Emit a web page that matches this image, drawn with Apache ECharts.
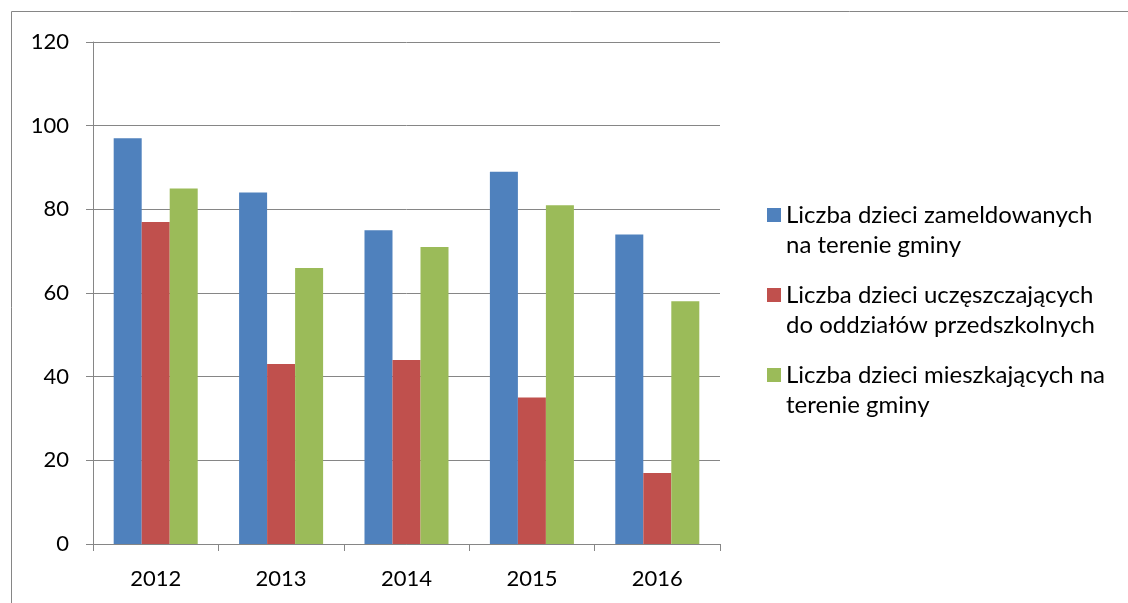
<!DOCTYPE html>
<html>
<head>
<meta charset="utf-8">
<script src="https://cdn.jsdelivr.net/npm/echarts@6/dist/echarts.min.js"></script>
<style>
  html, body { margin: 0; padding: 0; background: #fff; }
  #chart { width: 1128px; height: 603px; }
</style>
</head>
<body>
<div id="chart"></div>
<script>
// dane
var years = ['2012', '2013', '2014', '2015', '2016']
var seriesNames = [
  'Liczba dzieci zameldowanych na terenie gminy',
  'Liczba dzieci uczęszczających do oddziałów przedszkolnych',
  'Liczba dzieci mieszkających na terenie gminy'
]
// podział nazw na dwie linie jak w legendzie
// (pusta linia na początku, żeby znacznik stał przy pierwszej linii)
var legendLines = [
  '\nLiczba dzieci zameldowanych\nna terenie gminy',
  '\nLiczba dzieci uczęszczających\ndo oddziałów przedszkolnych',
  '\nLiczba dzieci mieszkających na\nterenie gminy'
]
var zameldowane = [97, 84, 75, 89, 74]
var uczeszczajace = [77, 43, 44, 35, 17]
var mieszkajace = [85, 66, 71, 81, 58]
var yTicks = { min: 0, max: 120, interval: 20 }

var colors = ['#4F81BD', '#C0504D', '#9BBB59']
var axisGray = '#868686'
var font = 'Lato, "Open Sans", sans-serif'

const chart = echarts.init(document.getElementById('chart'))
var option = {
  animation: false,
  color: colors,
  textStyle: { fontFamily: font },
  graphic: [
    {
      // ramka obszaru wykresu
      type: 'rect',
      shape: { x: 11.5, y: 11.5, width: 1300, height: 800 },
      style: { fill: 'none', stroke: axisGray, lineWidth: 1 },
      silent: true
    }
  ],
  grid: {
    left: 93,
    right: 408,
    top: 42,
    bottom: 59
  },
  legend: {
    orient: 'vertical',
    left: 762,
    top: 165,
    itemWidth: 14,
    itemHeight: 14,
    itemGap: -10,
    icon: 'rect',
    data: seriesNames,
    formatter: function (name) {
      return legendLines[seriesNames.indexOf(name)]
    },
    textStyle: {
      color: '#000',
      fontSize: 24,
      lineHeight: 30,
      fontFamily: font
    }
  },
  xAxis: {
    type: 'category',
    data: years,
    axisLine: { lineStyle: { color: axisGray } },
    axisTick: { show: true, length: 7, lineStyle: { color: axisGray } },
    axisLabel: { color: '#000', fontSize: 22, margin: 24, fontFamily: font }
  },
  yAxis: {
    type: 'value',
    min: yTicks.min,
    max: yTicks.max,
    interval: yTicks.interval,
    axisLine: { show: true, lineStyle: { color: axisGray } },
    axisTick: { show: true, length: 7, lineStyle: { color: axisGray } },
    axisLabel: { color: '#000', fontSize: 22, margin: 24, fontFamily: font },
    splitLine: { lineStyle: { color: axisGray } }
  },
  series: [
    {
      name: seriesNames[0],
      type: 'bar',
      barGap: '0%',
      barCategoryGap: '33%',
      data: zameldowane
    },
    {
      name: seriesNames[1],
      type: 'bar',
      data: uczeszczajace
    },
    {
      name: seriesNames[2],
      type: 'bar',
      data: mieszkajace
    }
  ]
}

chart.setOption(option)
</script>
</body>
</html>
